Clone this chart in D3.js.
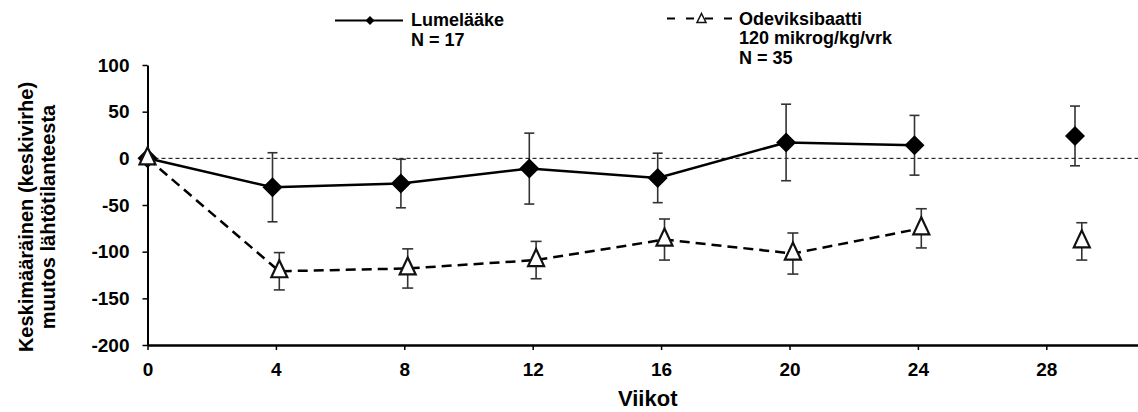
<!DOCTYPE html>
<html>
<head>
<meta charset="utf-8">
<script src="https://cdn.jsdelivr.net/npm/d3@7"></script>
<style>
  html, body { margin: 0; padding: 0; background: #fff; }
  svg { display: block; }
  text { font-family: "Liberation Sans", Arial, sans-serif; font-weight: bold; fill: #000; }
</style>
</head>
<body>
<svg id="chart" width="1138" height="412"></svg>
<script>
// ---- data ----
const weeks = [0, 4, 8, 12, 16, 20, 24, 29];
const connected = [true, true, true, true, true, true, true, false];
const placeboMean = [0, -31, -27, -11, -21, 17, 14, 24];
const placeboSE = [0, 37, 26, 38, 26.5, 41, 32, 32];
const odevMean = [0, -121, -118, -109, -87, -102, -75, -89];
const odevSE = [0, 20, 21, 20, 22, 22, 21, 20];
const xTicks = [0, 4, 8, 12, 16, 20, 24, 28];
const yTicks = [-200, -150, -100, -50, 0, 50, 100];
const legendLines = [["Lumelääke", "N = 17"], ["Odeviksibaatti", "120 mikrog/kg/vrk", "N = 35"]];
const xTitle = "Viikot";
const yTitle = ["Keskimääräinen (keskivirhe)", "muutos lähtötilanteesta"];

// ---- layout ----
const svg = d3.select("#chart");
const x = d3.scaleLinear().domain([0, 31]).range([147.5, 1142.6]);
const y = d3.scaleLinear().domain([-200, 100]).range([345, 65]);
const dodge = 3.4;

const placebo = weeks.map((w, i) => ({ week: w, mean: placeboMean[i], se: placeboSE[i], conn: connected[i] }));
const odev = weeks.map((w, i) => ({ week: w, mean: odevMean[i], se: odevSE[i], conn: connected[i] }));

const px = (d, off) => x(d.week) + (d.week === 0 ? 0 : off);
const fmt = d => String(d);

// zero reference line
svg.append("line")
  .attr("x1", x(0)).attr("x2", 1138)
  .attr("y1", y(0)).attr("y2", y(0))
  .attr("stroke", "#000").attr("stroke-width", 1)
  .attr("stroke-dasharray", "4,3");

// axes
const xAxis = svg.append("g")
  .attr("transform", `translate(0,${y(-200)})`)
  .call(d3.axisBottom(x).tickValues(xTicks).tickFormat(fmt).tickSize(5).tickSizeOuter(0).tickPadding(13));
xAxis.select(".domain").attr("stroke", "#000").attr("stroke-width", 2.5);
xAxis.selectAll(".tick line").attr("stroke", "#000").attr("stroke-width", 1.5);
xAxis.selectAll(".tick text").style("font-size", "19px")
  .style("font-family", '"Liberation Sans", Arial, sans-serif').style("font-weight", "bold").attr("fill", "#000");

const yAxis = svg.append("g")
  .attr("transform", `translate(${x(0)},0)`)
  .call(d3.axisLeft(y).tickValues(yTicks).tickFormat(fmt).tickSize(5).tickSizeOuter(0).tickPadding(13));
yAxis.select(".domain").attr("stroke", "#000").attr("stroke-width", 2);
yAxis.selectAll(".tick line").attr("stroke", "#000").attr("stroke-width", 1.5);
yAxis.selectAll(".tick text").style("font-size", "19px")
  .style("font-family", '"Liberation Sans", Arial, sans-serif').style("font-weight", "bold").attr("fill", "#000");

// axis titles
svg.append("text")
  .attr("x", (x(0) + 1138) / 2 + 5).attr("y", 405.5)
  .attr("text-anchor", "middle").style("font-size", "22px")
  .text(xTitle);

yTitle.forEach((t, i) => {
  svg.append("text")
    .attr("transform", `translate(${33 + i * 22},217) rotate(-90)`)
    .attr("text-anchor", "middle").style("font-size", "20px")
    .text(t);
});

// lines
const lineGen = off => d3.line()
  .defined(d => d.conn)
  .x(d => px(d, off)).y(d => y(d.mean));

svg.append("path").datum(placebo)
  .attr("d", lineGen(-dodge))
  .attr("fill", "none").attr("stroke", "#000").attr("stroke-width", 2.5);

svg.append("path").datum(odev)
  .attr("d", lineGen(dodge))
  .attr("fill", "none").attr("stroke", "#000").attr("stroke-width", 2.5)
  .attr("stroke-dasharray", "10,6");

// error bars
function errorBars(data, off, cap, cls) {
  const g = svg.append("g").attr("class", cls);
  const sel = g.selectAll("g").data(data.filter(d => d.se > 0)).join("g");
  sel.append("line")
    .attr("x1", d => px(d, off)).attr("x2", d => px(d, off))
    .attr("y1", d => y(d.mean + d.se)).attr("y2", d => y(d.mean - d.se))
    .attr("stroke", "#333").attr("stroke-width", 1.6);
  [1, -1].forEach(s => {
    sel.append("line")
      .attr("x1", d => px(d, off) - cap).attr("x2", d => px(d, off) + cap)
      .attr("y1", d => y(d.mean + s * d.se)).attr("y2", d => y(d.mean + s * d.se))
      .attr("stroke", "#333").attr("stroke-width", 1.6);
  });
}
errorBars(placebo, -dodge, 5, "eb-placebo");
errorBars(odev, dodge, 5.5, "eb-odev");

// markers
const diamondPath = r => `M0,${-r}L${r},0L0,${r}L${-r},0Z`;
const trianglePath = (w, up, down) => `M0,${-up}L${w},${down}L${-w},${down}Z`;

svg.append("g").selectAll("path").data(placebo).join("path")
  .attr("transform", d => `translate(${px(d, -dodge)},${y(d.mean)})`)
  .attr("d", diamondPath(10))
  .attr("fill", "#000");

svg.append("g").selectAll("path").data(odev).join("path")
  .attr("transform", d => `translate(${px(d, dodge)},${y(d.mean)})`)
  .attr("d", trianglePath(8, 11, 6))
  .attr("fill", "#fff").attr("stroke", "#111").attr("stroke-width", 2.2)
  .attr("stroke-linejoin", "miter");

// legend
const lg = svg.append("g").attr("class", "legend");
lg.append("line").attr("x1", 335).attr("x2", 403).attr("y1", 20.5).attr("y2", 20.5)
  .attr("stroke", "#000").attr("stroke-width", 2);
lg.append("path").attr("transform", "translate(370,20.5)").attr("d", diamondPath(4.5)).attr("fill", "#000");
legendLines[0].forEach((t, i) => {
  lg.append("text").attr("x", 411).attr("y", 26 + i * 19.5).style("font-size", "18px").text(t);
});
lg.append("line").attr("x1", 667).attr("x2", 735).attr("y1", 18.5).attr("y2", 18.5)
  .attr("stroke", "#000").attr("stroke-width", 2).attr("stroke-dasharray", "8,11");
lg.append("path").attr("transform", "translate(701.5,19)").attr("d", trianglePath(4.5, 5.5, 3.5))
  .attr("fill", "#fff").attr("stroke", "#111").attr("stroke-width", 1.5);
legendLines[1].forEach((t, i) => {
  lg.append("text").attr("x", 739).attr("y", 24.5 + i * 19.5).style("font-size", "18px").text(t);
});
</script>
</body>
</html>
